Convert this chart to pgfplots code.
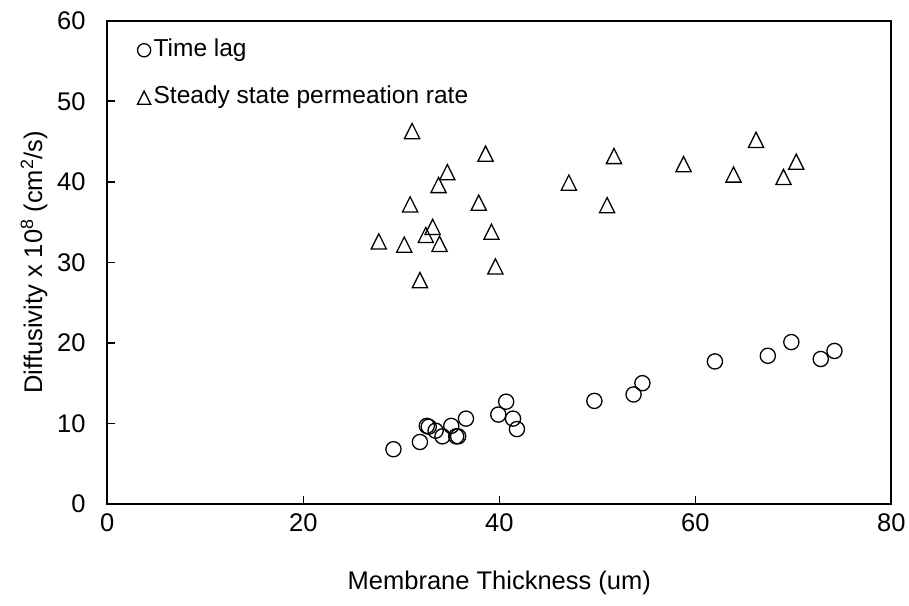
\documentclass[border=0pt]{standalone}
\usepackage{fontspec}
\setmainfont{Liberation Sans}
\usepackage{pgfplots}
\pgfplotsset{compat=1.18}

% open triangle whose bounding box is centred on the data point
\pgfdeclareplotmark{xltri}{%
  \pgfpathmoveto{\pgfqpoint{0pt}{\pgfplotmarksize}}%
  \pgfpathlineto{\pgfqpoint{-\pgfplotmarksize}{-\pgfplotmarksize}}%
  \pgfpathlineto{\pgfqpoint{\pgfplotmarksize}{-\pgfplotmarksize}}%
  \pgfpathclose
  \pgfusepathqstroke}

\newcommand\chartfont{\fontsize{25.5}{30}\selectfont}
\newcommand\legendfont{\fontsize{24.5}{29}\selectfont}

% Time-lag diffusivity
\pgfplotstableread{
x y
29.2 6.8
31.9 7.7
32.6 9.7
32.8 9.6
33.5 9.1
34.2 8.4
35.1 9.7
35.6 8.4
35.8 8.4
36.6 10.6
39.9 11.1
40.7 12.7
41.4 10.6
41.8 9.3
49.7 12.8
53.7 13.6
54.6 15.0
62.0 17.7
67.4 18.4
69.8 20.1
72.8 18.0
74.2 19.0
}\timelag

% Steady-state permeation diffusivity
\pgfplotstableread{
x y
27.7 32.6
30.3 32.2
30.9 37.2
31.1 46.3
31.9 27.8
32.5 33.4
33.2 34.4
33.8 39.6
33.9 32.3
34.7 41.2
37.9 37.4
38.6 43.5
39.2 33.8
39.6 29.5
47.1 39.9
51.0 37.1
51.7 43.2
58.8 42.2
63.9 40.9
66.2 45.2
69.0 40.6
70.3 42.5
}\steady

\begin{document}
\begin{tikzpicture}
\useasboundingbox (0,0) rectangle (909pt,605pt);
\begin{axis}[
  at={(107.3pt,101pt)}, anchor=south west,
  scale only axis, width=784pt, height=483.3pt,
  xmin=0, xmax=80, ymin=0, ymax=60,
  xtick={0,20,...,80}, ytick={0,10,...,60},
  tick align=inside, xtick pos=bottom, ytick pos=left,
  major tick length=8pt,
  axis line style={line width=2.2pt},
  every tick/.style={black, line width=1.5pt},
  tick label style={font=\chartfont, inner sep=0pt},
  xticklabel style={anchor=base, yshift=-27pt},
  yticklabel style={anchor=east, xshift=-21.5pt},
  /pgf/number format/assume math mode=true,
  xlabel={Membrane Thickness (um)},
  ylabel={Diffusivity x 10\textsuperscript{8} (cm\textsuperscript{2}/s)},
  label style={font=\chartfont, inner sep=0pt},
  xlabel style={at={(axis description cs:0.5,-0.1769)}, anchor=base},
  ylabel style={at={(axis description cs:-0.0935,0.5)}, anchor=center},
  clip=false,
  legend cell align=left,
  legend style={at={(axis description cs:0.03827,0.96255)}, anchor=north west,
    draw=none, fill=none, inner sep=0pt, font=\legendfont, row sep=25pt,
    nodes={inner sep=0pt, text height=17.5pt, text depth=5pt}},
  legend image code/.code={%
    \draw[#1, mark size=6.6pt, line width=1.1pt] plot coordinates {(0pt,0pt)};
    \path[draw=none, fill=none] (-6.6pt,0pt) -- (9.5pt,0pt);},
]
\addplot[only marks, mark=o, mark size=7.6pt, mark options={line width=1.3pt, black}] table {\timelag};
\addlegendentry{Time lag}
\addplot[only marks, mark=xltri, mark size=7.6pt, mark options={line width=1.3pt, black}] table {\steady};
\addlegendentry{Steady state permeation rate}
\end{axis}
\end{tikzpicture}
\end{document}
